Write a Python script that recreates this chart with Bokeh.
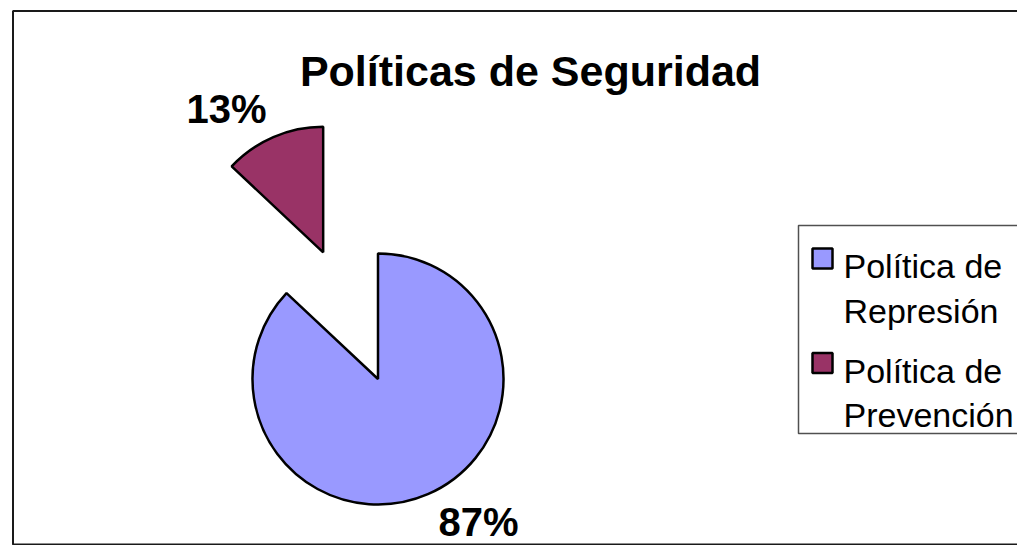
import math
from bokeh.plotting import figure
from bokeh.models import Range1d, ColumnDataSource
from bokeh.core.properties import value
from bokeh.embed import file_html
from bokeh.resources import INLINE

# ---- data ----
title = "Políticas de Seguridad"
categories = ["Política de Represión", "Política de Prevención"]
values = [87, 13]
pct_labels = ["87%", "13%"]
colors = ["#9999FF", "#993366"]

# ---- layout helpers (picture pixel -> data coords, 1:1 scale) ----
W, H = 1017, 545
def X(px):
    return px
def Y(py):
    return H - py

FONT = value("Liberation Sans")

p = figure(width=W, height=H, x_range=Range1d(0, W), y_range=Range1d(0, H),
           output_backend="svg", toolbar_location=None,
           x_axis_type=None, y_axis_type=None, min_border=0)
p.outline_line_color = None
p.background_fill_color = "white"
p.border_fill_color = "white"

# chart frame (right side runs past the window)
p.quad(left=[X(12.5)], right=[X(1100)], top=[Y(10.5)], bottom=[Y(544)],
       fill_color=None, line_color="#1a1a1a", line_width=2)

# ---- pie ----
cx, cy, r = X(377.5), Y(378.5), 125.5
explode = [0.0, 1.10]
total = float(sum(values))
a = math.pi / 2
xs, ys, starts, ends = [], [], [], []
for v, ex in zip(values, explode):
    sweep = 2 * math.pi * v / total
    s, e = a - sweep, a
    mid = (s + e) / 2
    xs.append(cx + ex * r * math.cos(mid))
    ys.append(cy + ex * r * math.sin(mid))
    starts.append(s)
    ends.append(e)
    a -= sweep

src = ColumnDataSource(dict(x=xs, y=ys, start=starts, end=ends, color=colors,
                            cat=categories, val=values))
p.wedge(x="x", y="y", radius=r, start_angle="start", end_angle="end",
        direction="anticlock", fill_color="color", line_color="black",
        line_width=2.5, source=src)

# percentage labels
p.text(x=[X(478)], y=[Y(543)], text=[pct_labels[0]], text_font=FONT,
       text_font_style="bold", text_font_size="40px", text_align="center",
       text_baseline="bottom", text_color="black")
p.text(x=[X(226)], y=[Y(108)], text=[pct_labels[1]], text_font=FONT,
       text_font_style="bold", text_font_size="40px", text_align="center",
       text_baseline="alphabetic", text_color="black")

# title
p.text(x=[X(530)], y=[Y(70)], text=[title], text_font=FONT,
       text_font_style="bold", text_font_size="43px", text_align="center",
       text_baseline="alphabetic", text_color="black")

# ---- legend ----
p.quad(left=[X(798)], right=[X(1100)], top=[Y(225)], bottom=[Y(433)],
       fill_color="white", line_color="#505050", line_width=1.5)

sq_y = [258, 362.5]
p.rect(x=[X(822)] * len(categories), y=[Y(v) for v in sq_y], width=20, height=20,
       fill_color=colors, line_color="black", line_width=2.5)

line_baselines = [[265.7, 310], [370, 414]]
tx, ty, tt = [], [], []
for cat, bls in zip(categories, line_baselines):
    words = cat.split(" ")
    lines = [" ".join(words[:-1]), words[-1]]
    for ln, bl in zip(lines, bls):
        tx.append(X(843))
        ty.append(Y(bl))
        tt.append(ln)
p.text(x=tx, y=ty, text=tt, text_font=FONT, text_font_size="34px",
       text_align="left", text_baseline="alphabetic", text_color="black")

open("out.html", "w").write(file_html(p, INLINE))
